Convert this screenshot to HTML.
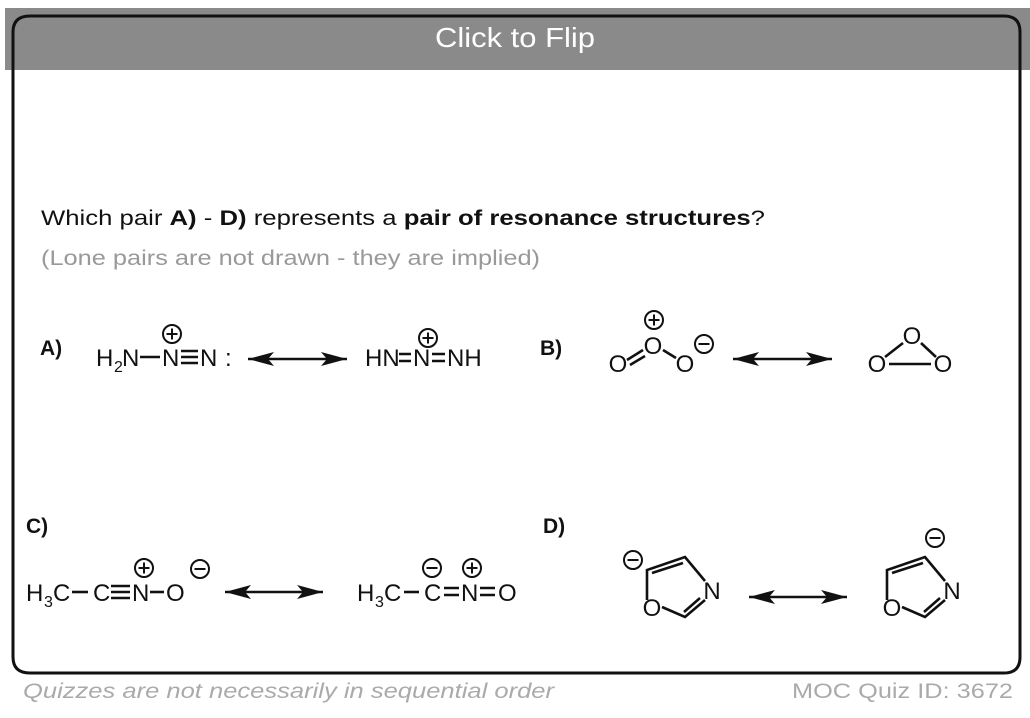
<!DOCTYPE html>
<html><head><meta charset="utf-8"><style>
html,body{margin:0;padding:0;background:#fff;}
svg{display:block;font-family:"Liberation Sans",Arial,sans-serif;}
</style></head><body>
<svg width="1030" height="718" viewBox="0 0 1030 718" xmlns="http://www.w3.org/2000/svg">
<rect x="0" y="0" width="1030" height="718" fill="#fff"/>
<rect x="5" y="8" width="1025" height="62" fill="#8a8a8a"/>
<path d="M13,70 L13,32 Q13,16 30,16 L1004,16 Q1020,16 1020,32 L1020,70" fill="none" stroke="#111" stroke-width="3"/>
<path d="M13,70 L13,657 Q13,673 30,673 L1004,673 Q1020,673 1020,657 L1020,70" fill="#fff" stroke="#111" stroke-width="3"/>
<text x="515" y="47" font-size="28" fill="#fff" text-anchor="middle" textLength="160" lengthAdjust="spacingAndGlyphs">Click to Flip</text>

<text x="41" y="225" font-size="21" fill="#111" textLength="724" lengthAdjust="spacingAndGlyphs">Which pair  <tspan font-weight="bold">A)</tspan> - <tspan font-weight="bold">D)</tspan> represents a <tspan font-weight="bold">pair of resonance structures</tspan>?</text>
<text x="41" y="265" font-size="21" fill="#999" textLength="499" lengthAdjust="spacingAndGlyphs">(Lone pairs are not drawn - they are implied)</text>

<defs>
<marker id="ah" viewBox="0 0 26 14" refX="26" refY="7" markerWidth="26" markerHeight="14" markerUnits="userSpaceOnUse" orient="auto-start-reverse"><path d="M0,0 L26,7 L0,14 L6,7 Z" fill="#111"/></marker>
<g id="plus"><circle r="9" fill="none" stroke="#111" stroke-width="2"/><path d="M-5.5,0H5.5M0,-5.5V5.5" stroke="#111" stroke-width="2"/></g>
<g id="minus"><circle r="9" fill="none" stroke="#111" stroke-width="2"/><path d="M-5.5,0H5.5" stroke="#111" stroke-width="2"/></g>
</defs>

<g fill="#111" font-size="24" stroke="none">
<text x="40" y="355" font-weight="bold" font-size="21">A)</text>
<text x="96" y="366">H</text><text x="114" y="372" font-size="16">2</text><text x="122" y="366">N</text>
<text x="162" y="366">N</text><text x="200" y="366">N</text><text x="225" y="366">:</text>
<text x="365" y="366">HN</text><text x="413" y="366">N</text><text x="447" y="366">NH</text>
<text x="540" y="355" font-weight="bold" font-size="21">B)</text>
<text x="618" y="372" text-anchor="middle">O</text><text x="653" y="354" text-anchor="middle">O</text><text x="685" y="372" text-anchor="middle">O</text>
<text x="912" y="344" text-anchor="middle">O</text><text x="877" y="372" text-anchor="middle">O</text><text x="943" y="372" text-anchor="middle">O</text>
<text x="26" y="533" font-weight="bold" font-size="21">C)</text>
<text x="26" y="601">H</text><text x="44" y="607" font-size="16">3</text><text x="53" y="601">C</text>
<text x="93" y="601">C</text><text x="132" y="601">N</text><text x="166" y="601">O</text>
<text x="357" y="601">H</text><text x="375" y="607" font-size="16">3</text><text x="384" y="601">C</text>
<text x="424" y="601">C</text><text x="461" y="601">N</text><text x="498" y="601">O</text>
<text x="543" y="533" font-weight="bold" font-size="21">D)</text>
<text x="652" y="616" text-anchor="middle">O</text><text x="712" y="599" text-anchor="middle">N</text>
<text x="892" y="616" text-anchor="middle">O</text><text x="952" y="599" text-anchor="middle">N</text>
</g>

<g stroke="#111" stroke-width="2.6" fill="none">
<path d="M140,357H160"/>
<path d="M181,351H198M181,357H198M181,363H198"/>
<path d="M399,354H411M399,361H411M432,354H445M432,361H445"/>
<line x1="248" y1="359" x2="347" y2="359" marker-start="url(#ah)" marker-end="url(#ah)"/>
<path d="M627,360L643,350M630,365L645,356"/>
<path d="M663,350L676,358"/>
<line x1="733" y1="359" x2="832" y2="359" marker-start="url(#ah)" marker-end="url(#ah)"/>
<path d="M903,343L885,357M921,343L936,357M889,364H931"/>
<path d="M72,592H88"/>
<path d="M111,586H130M111,592H130M111,598H130"/>
<path d="M150,592H164"/>
<line x1="225" y1="592" x2="323" y2="592" marker-start="url(#ah)" marker-end="url(#ah)"/>
<path d="M404,592H419"/>
<path d="M444,588H459M444,595H459M480,588H495M480,595H495"/>
<path d="M647,600L647,570L685,557L705,581M705,600L685,617L662,607"/>
<path d="M652,573L683,563M700,598L684,612"/>
<line x1="749" y1="597" x2="847" y2="597" marker-start="url(#ah)" marker-end="url(#ah)"/>
<path d="M887,600L887,570L925,557L945,581M945,600L925,617L902,607"/>
<path d="M892,573L923,563M940,598L924,612"/>
</g>

<use href="#plus" x="172" y="334"/>
<use href="#plus" x="428" y="338"/>
<use href="#plus" x="654" y="320"/>
<use href="#minus" x="704" y="344"/>
<use href="#plus" x="144" y="568"/>
<use href="#minus" x="200" y="569"/>
<use href="#minus" x="432" y="568"/>
<use href="#plus" x="472" y="568"/>
<use href="#minus" x="633" y="560"/>
<use href="#minus" x="935" y="538"/>

<text x="23" y="698" font-size="21" font-style="italic" fill="#aaa" textLength="531" lengthAdjust="spacingAndGlyphs">Quizzes are not necessarily in sequential order</text>
<text x="1013" y="698" font-size="21" fill="#aaa" text-anchor="end" textLength="221" lengthAdjust="spacingAndGlyphs">MOC Quiz ID: 3672</text>
</svg>
</body></html>
